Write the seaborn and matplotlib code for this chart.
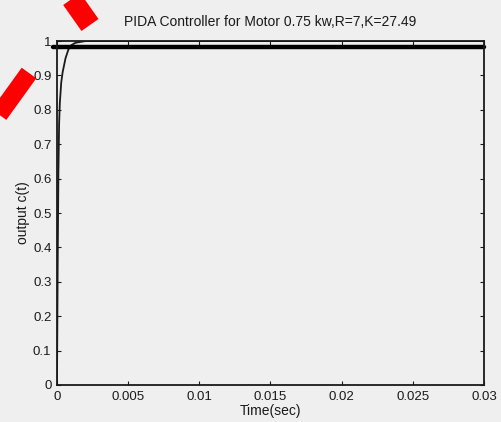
import matplotlib
matplotlib.use("Agg")
import matplotlib.pyplot as plt
import seaborn as sns
import pandas as pd
from matplotlib.lines import Line2D

sns.set_theme(style="ticks")
plt.rcParams['font.family'] = ['Liberation Sans', 'DejaVu Sans']

# Data
time_s = [0, 0.00005, 0.0001, 0.00015, 0.0002, 0.0003, 0.0004, 0.0006, 0.0008, 0.001, 0.0013, 0.002, 0.03]
output_c = [0, 0.35, 0.62, 0.76, 0.82, 0.88, 0.91, 0.95, 0.975, 0.988, 0.995, 1.0, 1.0]
x_ticks = [0, 0.005, 0.01, 0.015, 0.02, 0.025, 0.03]
x_labels = ["0", "0.005", "0.01", "0.015", "0.02", "0.025", "0.03"]
y_ticks = [0, 0.1, 0.2, 0.3, 0.4, 0.5, 0.6, 0.7, 0.8, 0.9, 1.0]
y_labels = ["0", "0.1", "0.2", "0.3", "0.4", "0.5", "0.6", "0.7", "0.8", "0.9", "1"]
marker_level = 0.983

df = pd.DataFrame({"t": time_s, "c": output_c})

bg = "#efefef"
ink = "#1a1a1a"
fig = plt.figure(figsize=(5.02, 4.22), dpi=100, facecolor=bg)
ax = fig.add_axes([0.1135, 0.0877, 0.8506, 0.815], facecolor=bg)

sns.lineplot(data=df, x="t", y="c", ax=ax, color=ink, linewidth=1.3)
ax.axhline(marker_level, color="black", linewidth=3.2, xmin=-0.01, xmax=1.0, clip_on=False)

ax.set_xlim(0, 0.03)
ax.set_ylim(0, 1)
ax.set_xticks(x_ticks)
ax.set_xticklabels(x_labels)
ax.set_yticks(y_ticks)
ax.set_yticklabels(y_labels)
ax.tick_params(direction="in", top=True, right=True, length=3, width=0.8,
               labelsize=9.5, colors=ink, pad=4)
for s in ax.spines.values():
    s.set_visible(True)
    s.set_color(ink)
    s.set_linewidth(1.3)
ax.set_xlabel("Time(sec)", fontsize=10, color=ink, labelpad=1)
ax.set_ylabel("output c(t)", fontsize=10, color=ink, labelpad=2)
ax.set_title("PIDA Controller for Motor 0.75 kw,R=7,K=27.49", fontsize=10, color=ink, pad=11)

# red marks on the scan
W, H = 502, 422
for (x0, y0, x1, y1, lw) in [(71, -2, 90, 25, 15), (-2, 116, 29, 73, 13)]:
    fig.add_artist(Line2D([x0 / W, x1 / W], [1 - y0 / H, 1 - y1 / H],
                          transform=fig.transFigure, color="#ff0000",
                          linewidth=lw, solid_capstyle="butt"))

fig.savefig("out.png", dpi=100, facecolor=bg)
